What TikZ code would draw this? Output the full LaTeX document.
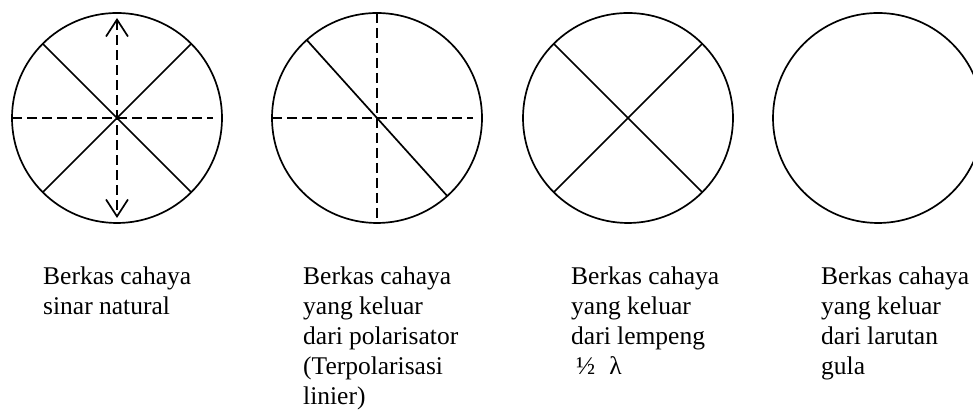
\documentclass[tikz,border=0pt]{standalone}
\usepackage{fontspec}
\setmainfont{Liberation Serif}
\usetikzlibrary{arrows.meta}

\begin{document}
\begin{tikzpicture}[x=1pt,y=1pt,line join=round,
  disc/.style={circle,draw,line width=1.7pt,minimum size=210pt,inner sep=0pt,outer sep=0pt},
  ray/.style={line width=1.7pt},
  vib/.style={line width=1.7pt,dash pattern=on 10pt off 5pt},
  barb/.style={{Straight Barb[length=17pt,width=22pt]}-{Straight Barb[length=17pt,width=22pt]}},
  caption/.style={anchor=north west,inner sep=0pt,align=left,font=\fontsize{25.5}{30}\selectfont}]
\path[use as bounding box] (0,0) rectangle (973,411);
\clip (0,0) rectangle (973,411);
% empat berkas cahaya dilihat dari depan
\node[disc] (natural) at (117,293) {};
\node[disc] (polar) at (377,293) {};
\node[disc] (lempeng) at (628,293) {};
\node[disc] (gula) at (878,293) {};
% sinar natural: semua arah getar
\draw[ray] (natural.135) -- (natural.-45);
\draw[ray] (natural.45) -- (natural.225);
\draw[vib] (natural.west) -- ++(201,0);
\draw[vib,barb,shorten <=5pt,shorten >=5pt] (natural.north) -- (natural.south);
% keluar dari polarisator
\draw[vib] (polar.north) -- (polar.south);
\draw[vib] (polar.west) -- ++(201,0);
\draw[ray] (polar.132) -- (polar.-48);
% keluar dari lempeng 1/2 lambda
\draw[ray] (lempeng.135) -- (lempeng.-45);
\draw[ray] (lempeng.45) -- (lempeng.225);
% keterangan
\node[caption] (capnatural) at (43,144) {Berkas cahaya\\sinar natural};
\node[caption] (cappolar) at (303,144) {Berkas cahaya\\yang keluar\\dari polarisator\\(Terpolarisasi\\linier)};
\node[caption] (caplempeng) at (571,144) {Berkas cahaya\\yang keluar\\dari lempeng\\\hspace*{5pt}½\hspace*{14pt}λ};
\node[caption] (capgula) at (821,144) {Berkas cahaya\\yang keluar\\dari larutan\\gula};
\end{tikzpicture}
\end{document}
